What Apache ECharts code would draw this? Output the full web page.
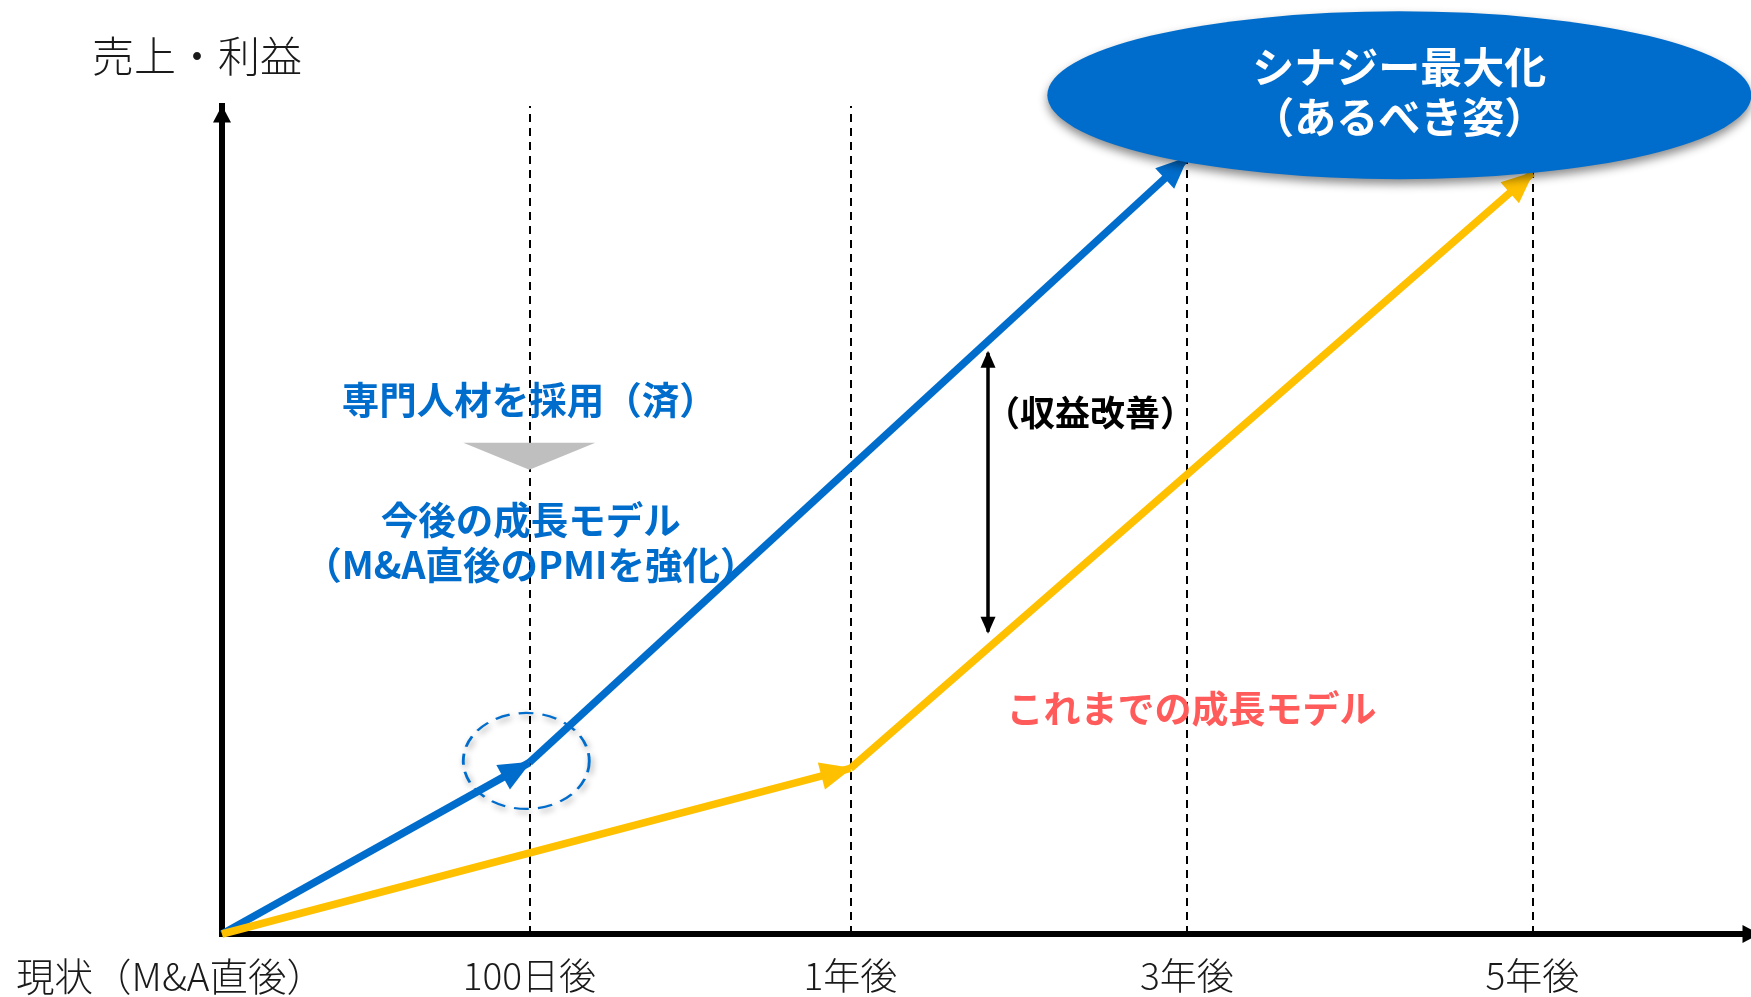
<!DOCTYPE html>
<html>
<head>
<meta charset="utf-8">
<script src="https://cdn.jsdelivr.net/npm/echarts@6/dist/echarts.min.js"></script>
<style>
  html, body { margin: 0; padding: 0; background: #ffffff; }
  #chart { width: 1751px; height: 997px; }
</style>
</head>
<body>
<div id="chart"></div>
<script>
// Stages along the horizontal (time) axis and their positions on a 0–100 scale
const stageNames = ['現状（M&A直後）', '100日後', '1年後', '3年後', '5年後'];
const stagePos = [0, 20.1, 41.1, 63.1, 85.7];

// Sales / profit level (0–100) of each growth path at its stages
const newModelStages = [0, 1, 3];          // 現状 → 100日後 → 3年後
const newModelLevel = [0, 20.7, 93.7];
const pastModelStages = [0, 2, 4];         // 現状 → 1年後 → 5年後
const pastModelLevel = [0, 20.0, 91.9];

// Gap between the two paths (収益改善)
const gapX = 50.1;
const gapRange = [36.5, 70.2];

// Annotation anchors in axis units
const goalPoint = [77.0, 101.3];
const pmiPoint = [19.9, 20.9];
const stepMarker = [20.1, 57.7];
const hiredNote = [20.1, 64.5];
const modelNote = [20.2, 47.3];
const gapNote = [49.9, 63.0];
const pastNote = [63.4, 27.2];

const BLUE = '#006DCC';
const GOLD = '#FFC000';
const RED = '#FF5B5B';
const INK = '#1a1a1a';
const FONT = "'Noto Sans CJK JP', 'Noto Sans', sans-serif";

// Arrow between two points; the triangle head is pulled back so its tip sits on the end point
function arrow(p1, p2, head, bothEnds) {
  const tip = { symbol: 'triangle', symbolSize: head, symbolOffset: [0, head[1] / 2 - 2] };
  const from = Object.assign({ coord: p1 }, bothEnds ? tip : { symbol: 'none' });
  const to = Object.assign({ coord: p2 }, tip);
  return [from, to];
}

function pathArrows(stages, levels, head) {
  const segs = [];
  for (let i = 0; i < stages.length - 1; i++) {
    segs.push(arrow([stagePos[stages[i]], levels[i]], [stagePos[stages[i + 1]], levels[i + 1]], head, false));
  }
  return segs;
}

function arrowSeries(name, color, width, data) {
  return {
    name: name,
    type: 'line',
    data: [],
    z: 4,
    silent: true,
    markLine: {
      silent: true,
      animation: false,
      symbol: 'none',
      symbolSize: 10,
      label: { show: false },
      emphasis: { disabled: true },
      lineStyle: { color: color, width: width, type: 'solid', opacity: 1, cap: 'butt' },
      data: data
    }
  };
}

const guideLines = stagePos.slice(1).map(x => ({ coords: [[x, 0], [x, 100]] }));

const chart = echarts.init(document.getElementById('chart'), null, { renderer: 'canvas' });

const option = {
  backgroundColor: '#ffffff',
  animation: false,
  grid: { left: 222, right: 0, top: 106, bottom: 63, containLabel: false, outerBoundsMode: 'none' },
  xAxis: {
    type: 'value',
    min: 0,
    max: 100,
    splitLine: { show: false },
    axisTick: { show: false },
    axisLine: {
      show: true,
      symbol: ['none', 'triangle'],
      symbolSize: [18, 17],
      lineStyle: { color: '#000', width: 6, cap: 'square' }
    },
    axisLabel: {
      show: true,
      customValues: stagePos,
      margin: 23,
      color: INK,
      fontFamily: FONT,
      fontSize: 37,
      fontWeight: 300,
      formatter: function (v) {
        let best = 0;
        stagePos.forEach((p, i) => { if (Math.abs(p - v) < Math.abs(stagePos[best] - v)) best = i; });
        return best === 0 ? '{first|' + stageNames[0] + '}' : stageNames[best];
      },
      rich: {
        first: { fontFamily: FONT, fontSize: 38.5, fontWeight: 300, color: INK, padding: [0, 103, 0, 0] }
      }
    }
  },
  yAxis: {
    type: 'value',
    min: 0,
    max: 100,
    name: '売上・利益',
    nameLocation: 'end',
    nameGap: 29,
    nameTextStyle: { color: INK, fontFamily: FONT, fontSize: 42, fontWeight: 300, padding: [0, 50, 0, 0] },
    splitLine: { show: false },
    axisTick: { show: false },
    axisLabel: { show: false },
    axisLine: {
      show: true,
      symbol: ['none', 'triangle'],
      symbolSize: [18, 17],
      symbolOffset: [0, -8],
      lineStyle: { color: '#000', width: 6, cap: 'square' }
    }
  },
  series: [
    {
      name: 'guides',
      type: 'lines',
      coordinateSystem: 'cartesian2d',
      z: 1,
      symbol: 'none',
      silent: true,
      lineStyle: { color: '#000', width: 2, type: [8, 6], opacity: 1 },
      data: guideLines
    },
    arrowSeries('今後の成長モデル', BLUE, 7.5, pathArrows(newModelStages, newModelLevel, [28, 32])),
    arrowSeries('これまでの成長モデル', GOLD, 7.5, pathArrows(pastModelStages, pastModelLevel, [28, 32])),
    arrowSeries('収益改善', '#000', 3.5, [arrow([gapX, gapRange[0]], [gapX, gapRange[1]], [15, 17], true)]),
    {
      name: 'PMI',
      type: 'scatter',
      z: 3,
      clip: false,
      silent: true,
      symbol: 'circle',
      symbolSize: [126, 96],
      itemStyle: {
        color: 'rgba(0,0,0,0)',
        opacity: 1,
        borderColor: BLUE,
        borderWidth: 2.5,
        borderType: [13, 8],
        shadowColor: 'rgba(0,0,0,0.4)',
        shadowBlur: 6,
        shadowOffsetX: 2,
        shadowOffsetY: 3
      },
      data: [pmiPoint]
    },
    {
      name: 'step',
      type: 'scatter',
      z: 3,
      clip: false,
      silent: true,
      symbol: 'triangle',
      symbolRotate: 180,
      symbolSize: [132, 27],
      itemStyle: { color: '#BFBFBF', opacity: 1 },
      data: [stepMarker]
    },
    {
      name: 'goal',
      type: 'scatter',
      z: 6,
      clip: false,
      silent: true,
      symbol: 'circle',
      symbolSize: [704, 168],
      itemStyle: {
        color: BLUE,
        opacity: 1,
        shadowColor: 'rgba(0,0,0,0.45)',
        shadowBlur: 10,
        shadowOffsetY: 5
      },
      label: {
        show: true,
        position: 'inside',
        offset: [0, -3],
        formatter: 'シナジー最大化\n（あるべき姿）',
        color: '#ffffff',
        fontFamily: FONT,
        fontSize: 42,
        fontWeight: 'bold',
        lineHeight: 50
      },
      data: [goalPoint]
    },
    {
      name: 'notes',
      type: 'scatter',
      z: 5,
      clip: false,
      silent: true,
      symbol: 'circle',
      symbolSize: 1,
      itemStyle: { color: 'rgba(0,0,0,0)', opacity: 1 },
      label: { show: true, position: 'inside', fontFamily: FONT, fontWeight: 'bold' },
      data: [
        { value: hiredNote, label: { formatter: '専門人材を採用（済）', color: BLUE, fontSize: 37.5 } },
        { value: modelNote, label: { formatter: '今後の成長モデル\n（M&A直後のPMIを強化）', color: BLUE, fontSize: 37.5, lineHeight: 45 } },
        { value: gapNote, label: { formatter: '（収益改善）', color: '#000', fontSize: 35, align: 'left' } },
        { value: pastNote, label: { formatter: 'これまでの成長モデル', color: RED, fontSize: 37 } }
      ]
    }
  ]
};

chart.setOption(option);
</script>
</body>
</html>
